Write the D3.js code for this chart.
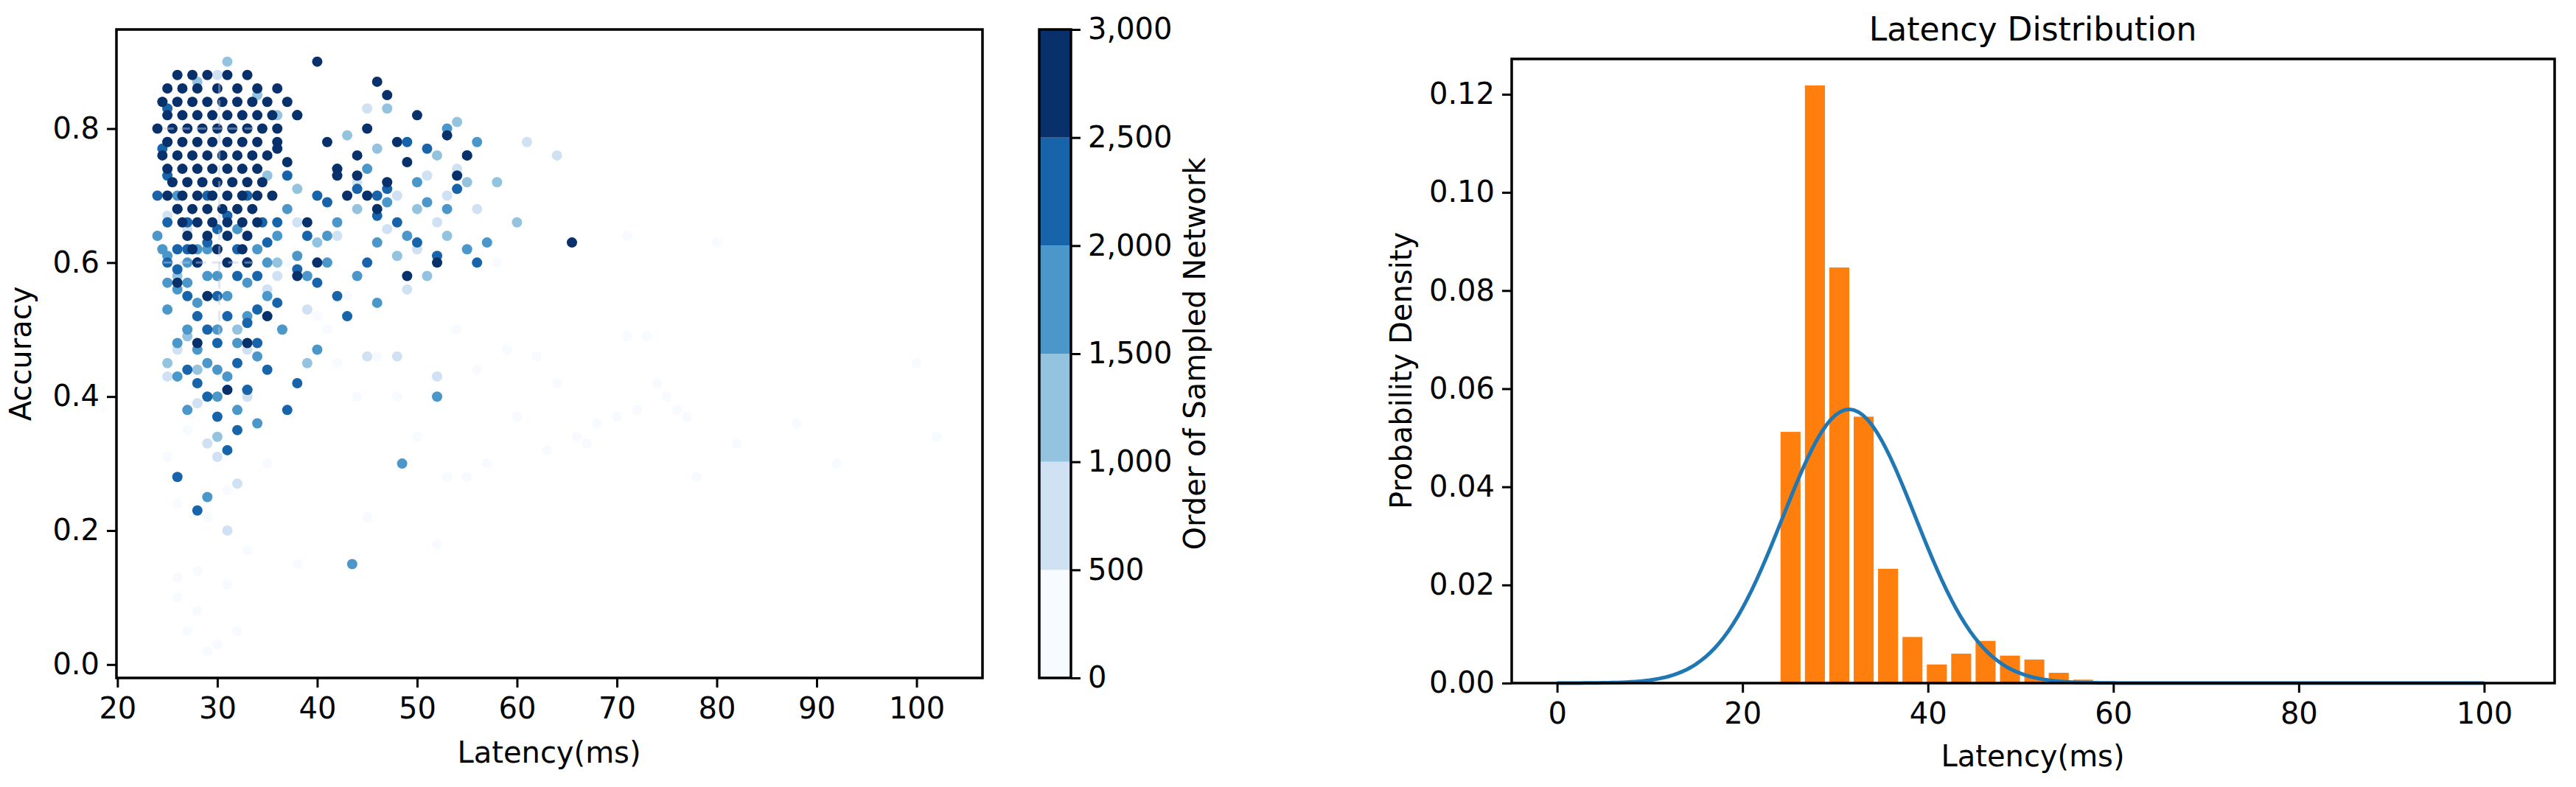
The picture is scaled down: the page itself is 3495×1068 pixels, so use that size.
<!DOCTYPE html>
<html>
<head>
<meta charset="utf-8">
<script src="https://cdn.jsdelivr.net/npm/d3@7"></script>
<style>
body { margin: 0; background: #fff; }
text { font-family: "DejaVu Sans", sans-serif; fill: #000; }
</style>
</head>
<body>
<svg id="chart" width="3495" height="1068"></svg>
<script>
// order bins of the colour bar
var orderLevels = [250, 750, 1250, 1750, 2250, 2750];
var cbTicks = [0, 500, 1000, 1500, 2000, 2500, 3000];

// [latency, accuracy] per order bin
var pts250 = [[26,0.13],[26,0.1],[27,0.05],[28,0.08],[29,0.02],[30,0.03],[31,0.12],[33,0.17],[38,0.15],[45,0.22],[52,0.18],[55,0.28],[57,0.3],[60,0.37],[63,0.32],[66,0.34],[68,0.36],[70,0.37],[72,0.38],[74,0.42],[76,0.38],[78,0.28],[82,0.33],[88,0.36],[92,0.3],[100,0.45],[102,0.34],[73,0.49],[75,0.4],[71,0.64],[80,0.63],[56,0.44],[48,0.4],[42,0.45],[36,0.5],[40,0.52],[34,0.47],[29,0.22],[31,0.26],[44,0.4],[46,0.46],[54,0.5],[58,0.6],[25,0.31],[27,0.35],[35,0.3],[41,0.5],[62,0.46],[67,0.33],[32,0.05],[28,0.14],[26,0.24],[37,0.6],[43,0.55],[50,0.34],[53,0.28],[64,0.42],[77,0.37],[71,0.49],[59,0.47]];
var pts750 = [[25,0.43],[26,0.47],[28,0.39],[27,0.65],[32,0.27],[33,0.4],[45,0.46],[49,0.56],[50,0.62],[52,0.66],[53,0.7],[48,0.7],[61,0.78],[64,0.76],[45,0.83],[40,0.6],[36,0.58],[30,0.31],[54,0.74],[42,0.64],[38,0.66],[44,0.72],[56,0.68],[51,0.73],[30,0.88],[26,0.76],[25,0.67],[33,0.47],[35,0.56],[47,0.65],[39,0.53],[52,0.43],[48,0.46],[31,0.2],[29,0.33]];
var pts1250 = [[31,0.9],[28,0.87],[34,0.85],[36,0.82],[33,0.8],[42,0.74],[50,0.68],[52,0.76],[55,0.72],[58,0.72],[60,0.66],[54,0.81],[47,0.83],[44,0.68],[38,0.71],[36,0.6],[48,0.61],[40,0.63],[30,0.34],[32,0.5],[27,0.49],[26,0.58],[29,0.55],[35,0.73],[51,0.58],[46,0.77],[43,0.79],[25,0.45],[39,0.45],[28,0.44],[53,0.64]];
var pts1750 = [[24,0.64],[25,0.61],[26,0.56],[25,0.53],[27,0.5],[28,0.47],[29,0.45],[30,0.44],[31,0.43],[32,0.38],[33,0.41],[34,0.46],[28,0.54],[29,0.58],[31,0.6],[33,0.57],[35,0.55],[30,0.5],[26,0.43],[27,0.38],[29,0.25],[43.5,0.15],[48.5,0.3],[52,0.4],[36.5,0.5],[41,0.6],[44,0.58],[46,0.63],[49,0.64],[53,0.68],[55,0.62],[57,0.63],[50,0.72],[47,0.69],[45,0.74],[42,0.66],[38,0.61],[39,0.58],[37,0.68],[56,0.78],[53,0.8],[25,0.78],[26,0.7],[24.5,0.62],[32,0.65],[34,0.62],[36,0.64],[27,0.6],[28,0.62],[30,0.58],[31,0.55],[33,0.52],[34,0.36],[26,0.48],[30,0.4],[32,0.48],[29,0.62],[25,0.57],[27,0.57],[35,0.6],[40,0.47],[51,0.69],[46,0.54],[41,0.64]];
var pts2250 = [[24,0.7],[25,0.73],[25,0.66],[26,0.62],[27,0.66],[28,0.6],[29,0.63],[30,0.65],[31,0.67],[32,0.62],[33,0.6],[34,0.58],[35,0.63],[26,0.59],[27,0.55],[28,0.52],[29,0.5],[30,0.48],[31,0.52],[32,0.45],[33,0.51],[34,0.53],[28,0.42],[29,0.4],[27,0.44],[30,0.37],[31,0.32],[32,0.35],[26,0.28],[28,0.23],[33,0.41],[36,0.54],[38,0.59],[40,0.57],[39,0.64],[42,0.55],[45,0.6],[47,0.71],[46,0.67],[48,0.66],[50,0.63],[52,0.61],[54,0.71],[55,0.76],[49,0.78],[44,0.71],[41,0.69],[40,0.7],[36,0.66],[37,0.73],[25,0.83],[29,0.7],[33,0.7],[43,0.52],[46,0.7],[51,0.77],[56,0.6],[38,0.42],[37,0.38],[34,0.48],[35,0.44],[27,0.62],[30,0.55],[32,0.58],[25,0.6],[26,0.68],[24.5,0.77],[34.5,0.66]];
var pts2750 = [
  [26,0.88],[27.5,0.88],[29,0.88],[31,0.88],[33,0.88],
  [25,0.86],[26.5,0.86],[28,0.86],[30,0.86],[32,0.86],[34,0.86],[36,0.86],
  [24.5,0.84],[26,0.84],[27.5,0.84],[29,0.84],[30.5,0.84],[32,0.84],[33.5,0.84],[35,0.84],[37,0.84],
  [25,0.82],[26.5,0.82],[28,0.82],[29.5,0.82],[31,0.82],[32.5,0.82],[34,0.82],[35.5,0.82],[38,0.82],
  [24,0.8],[25.5,0.8],[27,0.8],[28.5,0.8],[30,0.8],[31.5,0.8],[33,0.8],[34.5,0.8],[36,0.8],
  [25,0.78],[26.5,0.78],[28,0.78],[29.5,0.78],[31,0.78],[32.5,0.78],[34,0.78],[36,0.78],
  [24.5,0.76],[26,0.76],[27.5,0.76],[29,0.76],[30.5,0.76],[32,0.76],[33.5,0.76],[35,0.76],
  [25,0.74],[26.5,0.74],[28,0.74],[29.5,0.74],[31,0.74],[32.5,0.74],[34,0.74],
  [25.5,0.72],[27,0.72],[28.5,0.72],[30,0.72],[31.5,0.72],[33,0.72],[34.5,0.72],
  [25,0.7],[26.5,0.7],[28,0.7],[29.5,0.7],[31,0.7],[32.5,0.7],[34,0.7],[35.5,0.7],
  [26,0.68],[27.5,0.68],[29,0.68],[30.5,0.68],[32,0.68],[33.5,0.68],
  [26.5,0.66],[28,0.66],[29.5,0.66],[31,0.66],[32.5,0.66],[34,0.66],
  [27,0.64],[29,0.64],[31,0.64],[33,0.64],
  [27.5,0.62],[30,0.62],[32.5,0.62],
  [28,0.6],[31,0.6],[33,0.6],
  [26,0.57],[29,0.55],[28,0.48],[31,0.41],[33,0.48],[35,0.52],[40,0.9],[38,0.82],[41,0.78],[44,0.76],
  [45,0.8],[46,0.87],[47,0.85],[48,0.78],[50,0.82],[49,0.75],[53,0.79],[54,0.73],[55,0.76],[47,0.72],
  [44,0.73],[45,0.7],[46,0.68],[43,0.7],[42,0.74],[36,0.77],[37,0.75],[39,0.66],[40,0.6],[49,0.58],
  [65.5,0.63],[52,0.6],[38,0.58],[42,0.73]
];
var ptsByLevel = [pts250, pts750, pts1250, pts1750, pts2250, pts2750];

// histogram of latency
var binStart = 24.1;
var binWidth = 2.63;
var density = [0.0512, 0.1218, 0.0847, 0.0543, 0.0233, 0.0094, 0.0038, 0.0060, 0.0086, 0.0056, 0.0048, 0.0021, 0.0007, 0, 0, 0, 0.0003, 0, 0.0003, 0.0003, 0.0003];
// fitted normal curve
var fitMean = 31.5;
var fitStd = 7.15;
var curveX = d3.range(0, 100.5, 0.5);

var svg = d3.select("#chart");
var fs = 40;

// ---------- left scatter ----------
var x1 = d3.scaleLinear().domain([19.9, 106.6]).range([158, 1333]);
var y1 = d3.scaleLinear().domain([-0.02, 0.948]).range([920, 40]);
var color = d3.scaleThreshold().domain([500, 1000, 1500, 2000, 2500])
    .range([0, 0.2, 0.4, 0.6, 0.8, 1].map(d3.interpolateBlues));

var scatter = svg.append("g");
ptsByLevel.forEach(function(pts, i) {
    scatter.selectAll(null).data(pts).enter().append("circle")
        .attr("cx", d => x1(d[0]))
        .attr("cy", d => y1(d[1]))
        .attr("r", 7)
        .attr("fill", color(orderLevels[i]));
});

// faint dashed lines over the cluster
var dash = svg.append("g").attr("stroke", "rgba(190,200,220,0.45)")
    .attr("stroke-width", 3).attr("stroke-dasharray", "14,8");
dash.append("line").attr("x1", x1(30.2)).attr("x2", x1(30.2)).attr("y1", y1(0.867)).attr("y2", y1(0.49));
[0.8, 0.6].forEach(function(v) {
    dash.append("line").attr("x1", x1(24.6)).attr("x2", x1(33.6)).attr("y1", y1(v)).attr("y2", y1(v));
});

function styleAxis(g) {
    g.selectAll("path").remove();
    g.selectAll("line").attr("stroke", "#000").attr("stroke-width", 3);
    g.selectAll("text").style("font-size", fs + "px");
}

svg.append("g").attr("transform", "translate(0,920)")
    .call(d3.axisBottom(x1).tickValues(d3.range(20, 101, 10)).tickSize(13).tickPadding(14))
    .call(styleAxis);
svg.append("g").attr("transform", "translate(158,0)")
    .call(d3.axisLeft(y1).tickValues([0, 0.2, 0.4, 0.6, 0.8]).tickFormat(d3.format(".1f")).tickSize(13).tickPadding(10))
    .call(styleAxis);
svg.append("rect").attr("x", 158).attr("y", 40).attr("width", 1175).attr("height", 880)
    .attr("fill", "none").attr("stroke", "#000").attr("stroke-width", 3.5);

svg.append("text").attr("x", 745).attr("y", 1035).attr("text-anchor", "middle")
    .style("font-size", fs + "px").text("Latency(ms)");
svg.append("text").attr("transform", "translate(42,480) rotate(-90)").attr("text-anchor", "middle")
    .style("font-size", fs + "px").text("Accuracy");

// ---------- colour bar ----------
var cy = d3.scaleLinear().domain([0, 3000]).range([920, 40]);
svg.append("g").selectAll("rect").data(orderLevels).enter().append("rect")
    .attr("x", 1410).attr("width", 43)
    .attr("y", d => cy(d + 250)).attr("height", d => cy(d - 250) - cy(d + 250))
    .attr("fill", d => color(d));
svg.append("rect").attr("x", 1410).attr("y", 40).attr("width", 43).attr("height", 880)
    .attr("fill", "none").attr("stroke", "#000").attr("stroke-width", 3.5);
svg.append("g").attr("transform", "translate(1453,0)")
    .call(d3.axisRight(cy).tickValues(cbTicks).tickSize(13).tickPadding(10))
    .call(styleAxis);
svg.append("text").attr("transform", "translate(1635,480) rotate(-90)").attr("text-anchor", "middle")
    .style("font-size", fs + "px").text("Order of Sampled Network");

// ---------- right histogram ----------
var x2 = d3.scaleLinear().domain([-4.9, 107.6]).range([2051, 3466]);
var y2 = d3.scaleLinear().domain([0, 0.1272]).range([927, 80]);

svg.append("g").selectAll("rect").data(density).enter().append("rect")
    .attr("x", (d, i) => x2(binStart + i * binWidth))
    .attr("width", x2(binWidth * 0.82) - x2(0))
    .attr("y", d => y2(d))
    .attr("height", d => y2(0) - y2(d))
    .attr("fill", "#ff7f0e");

var pdf = curveX.map(v => [v, Math.exp(-0.5 * Math.pow((v - fitMean) / fitStd, 2)) / (fitStd * Math.sqrt(2 * Math.PI))]);
svg.append("path").datum(pdf)
    .attr("d", d3.line().x(d => x2(d[0])).y(d => y2(d[1])))
    .attr("fill", "none").attr("stroke", "#1f77b4").attr("stroke-width", 5);

svg.append("g").attr("transform", "translate(0,927)")
    .call(d3.axisBottom(x2).tickValues(d3.range(0, 101, 20)).tickSize(13).tickPadding(14))
    .call(styleAxis);
svg.append("g").attr("transform", "translate(2051,0)")
    .call(d3.axisLeft(y2).tickValues(d3.range(0, 0.121, 0.02)).tickFormat(d3.format(".2f")).tickSize(13).tickPadding(10))
    .call(styleAxis);
svg.append("rect").attr("x", 2051).attr("y", 80).attr("width", 1415).attr("height", 847)
    .attr("fill", "none").attr("stroke", "#000").attr("stroke-width", 3.5);

svg.append("text").attr("x", 2758).attr("y", 1040).attr("text-anchor", "middle")
    .style("font-size", fs + "px").text("Latency(ms)");
svg.append("text").attr("transform", "translate(1915,503) rotate(-90)").attr("text-anchor", "middle")
    .style("font-size", fs + "px").text("Probability Density");
svg.append("text").attr("x", 2758).attr("y", 55).attr("text-anchor", "middle")
    .style("font-size", "44px").text("Latency Distribution");
</script>
</body>
</html>
